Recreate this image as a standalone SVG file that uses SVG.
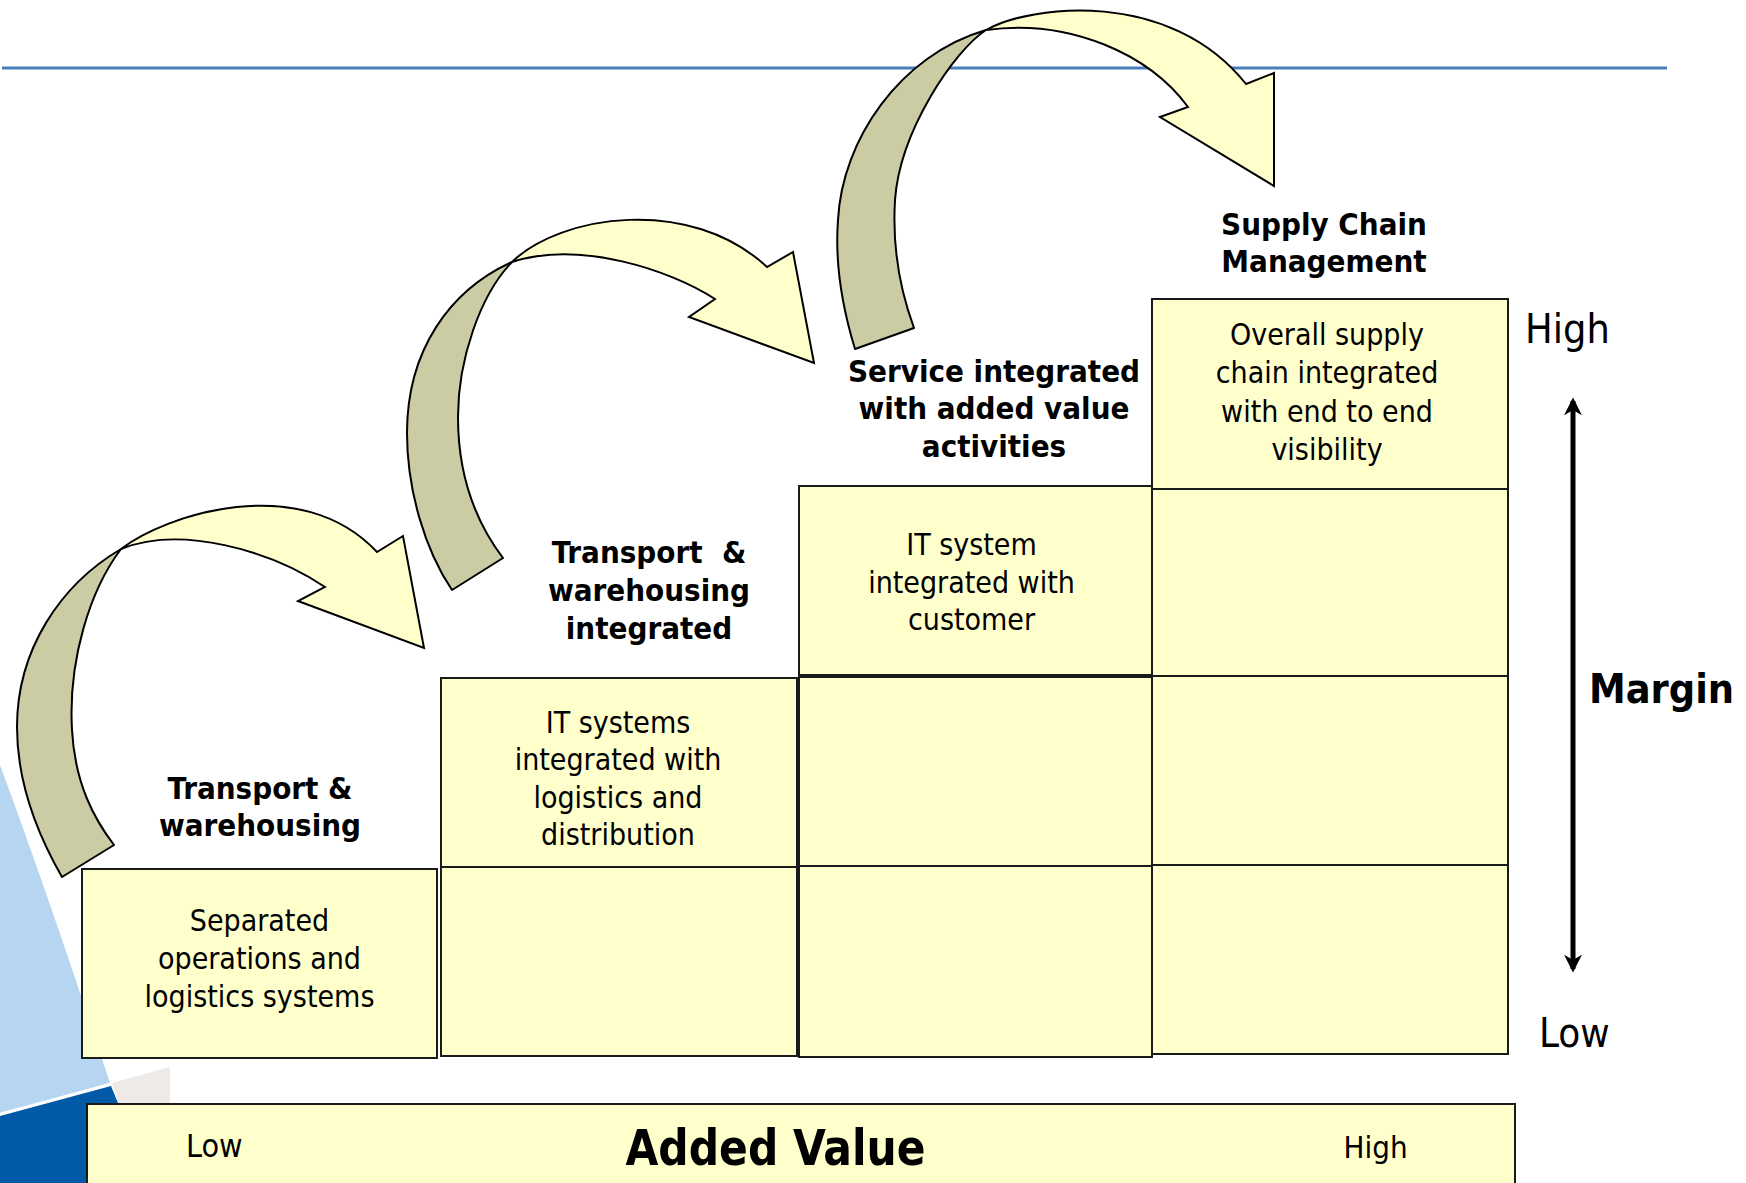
<svg xmlns="http://www.w3.org/2000/svg" width="1746" height="1183" viewBox="0 0 1746 1183">
<defs>
<style>
.box{fill:#FFFFCC;stroke:#1a1a1a;stroke-width:2}
.olive{fill:#CCCCA4;stroke:#000;stroke-width:2;stroke-linejoin:round}
.yel{fill:#FFFFCC;stroke:#000;stroke-width:2;stroke-linejoin:miter}
text{font-family:"DejaVu Sans Condensed","DejaVu Sans",Verdana,sans-serif;font-stretch:condensed;fill:#000}
.lbl{font-size:31px;font-weight:bold;text-anchor:middle}
.txt{font-size:30px;text-anchor:middle}
</style>
<marker id="ah" viewBox="0 0 10 10" refX="8" refY="5" markerWidth="3.6" markerHeight="3.6" orient="auto-start-reverse" markerUnits="strokeWidth">
<path d="M0,0 L10,5 L0,10 L3,5 Z" fill="#000"/>
</marker>
</defs>
<rect width="1746" height="1183" fill="#fff"/>
<g id="decor">
<path d="M0,765 Q50,900 110,1083 L0,1113 Z" fill="#B5D5F0"/>
<path d="M0,1116 L111,1086 L125,1120 L140,1183 L0,1183 Z" fill="#005AA8"/>
<path d="M112,1083 L170,1067 L170,1104 L119,1104 Z" fill="#EDEAE8"/>
<line x1="0" y1="1114" x2="111" y2="1084" stroke="#fff" stroke-width="2.5"/>
</g>
<line id="topline" x1="2" y1="68" x2="1667" y2="68" stroke="#4A7EBB" stroke-width="3"/>

<g id="grid">
<rect class="box" x="82" y="869" width="355" height="189"/>
<rect class="box" x="441" y="678" width="356" height="189"/>
<rect class="box" x="441" y="867" width="356" height="189"/>
<rect class="box" x="799" y="486" width="353" height="189"/>
<rect class="box" x="799" y="677" width="353" height="189"/>
<rect class="box" x="799" y="866" width="353" height="191"/>
<rect class="box" x="1152" y="299" width="356" height="190"/>
<rect class="box" x="1152" y="489" width="356" height="187"/>
<rect class="box" x="1152" y="676" width="356" height="189"/>
<rect class="box" x="1152" y="865" width="356" height="189"/>
</g>

<g id="connectors">
<g id="arrow1">
<path class="olive" d="M62,877 C35,830 17,780 17,727 C17,650 60,585 121,549 C90,590 68,660 72,730 C75,785 95,820 114,845 Z"/>
<path class="yel" d="M121,549 C165,515 300,470 377,552 L403,536 L424,648 L298,601 L325,587 C270,550 180,525 121,549 Z"/>
</g>
<g id="arrow2">
<path class="olive" d="M452,590 C425,550 407,490 407,433 C407,350 450,290 512,262 C480,295 458,360 458,417 C458,480 478,525 503,558 Z"/>
<path class="yel" d="M512,262 C560,215 690,195 767,267 L793,252 L814,363 L689,317 L715,299 C670,270 580,240 512,262 Z"/>
</g>
<g id="arrow3">
<path class="olive" d="M855,349 C840,300 835,260 838,220 C842,140 900,55 986,30 C955,50 900,130 895,200 C892,250 900,290 914,328 Z"/>
<path class="yel" d="M986,30 C1030,5 1170,-12 1246,84 L1274,73 L1274,186 L1160,117 L1188,107 C1150,55 1070,18 986,30 Z"/>
</g>
<line id="margin-arrow" x1="1573" y1="401" x2="1573" y2="969" stroke="#000" stroke-width="5" marker-start="url(#ah)" marker-end="url(#ah)"/>
</g>

<g id="stage1">
<text class="lbl" x="260" y="799">Transport &amp;</text>
<text class="lbl" x="260" y="836">warehousing</text>
<text class="txt" x="259.5" y="931">Separated</text>
<text class="txt" x="259.5" y="969">operations and</text>
<text class="txt" x="259.5" y="1007">logistics systems</text>
</g>
<g id="stage2">
<text class="lbl" x="649" y="563" xml:space="preserve">Transport  &amp;</text>
<text class="lbl" x="649" y="601">warehousing</text>
<text class="lbl" x="649" y="639">integrated</text>
<text class="txt" x="618" y="733">IT systems</text>
<text class="txt" x="618" y="770">integrated with</text>
<text class="txt" x="618" y="808">logistics and</text>
<text class="txt" x="618" y="845">distribution</text>
</g>
<g id="stage3">
<text class="lbl" x="994" y="382">Service integrated</text>
<text class="lbl" x="994" y="419">with added value</text>
<text class="lbl" x="994" y="457">activities</text>
<text class="txt" x="971.5" y="555">IT system</text>
<text class="txt" x="971.5" y="593">integrated with</text>
<text class="txt" x="971.5" y="630">customer</text>
</g>
<g id="stage4">
<text class="lbl" x="1324" y="235">Supply Chain</text>
<text class="lbl" x="1324" y="272">Management</text>
<text class="txt" x="1327" y="345">Overall supply</text>
<text class="txt" x="1327" y="383">chain integrated</text>
<text class="txt" x="1327" y="422">with end to end</text>
<text class="txt" x="1327" y="460">visibility</text>
</g>
<g id="margin-axis">
<text x="1525" y="343" font-size="41">High</text>
<text x="1589" y="703" font-size="41" font-weight="bold">Margin</text>
<text x="1539" y="1047" font-size="40">Low</text>
</g>
<g id="added-value">
<rect class="box" x="87" y="1104" width="1428" height="100"/>
<text x="186" y="1157" font-size="32">Low</text>
<text x="775.5" y="1165" font-size="50" font-weight="bold" text-anchor="middle" textLength="300" lengthAdjust="spacingAndGlyphs">Added Value</text>
<text x="1343.5" y="1158" font-size="31">High</text>
</g>
</svg>
